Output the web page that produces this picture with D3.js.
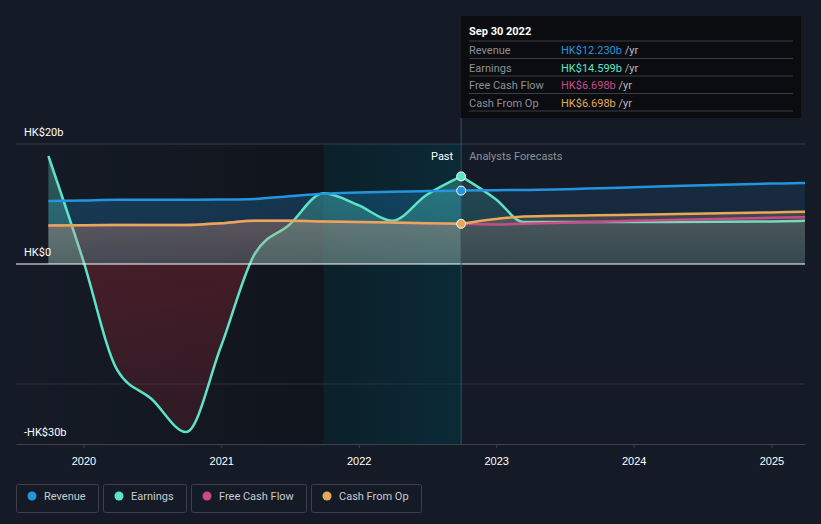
<!DOCTYPE html>
<html>
<head>
<meta charset="utf-8">
<script src="https://cdn.jsdelivr.net/npm/d3@7"></script>
<style>
  body { margin: 0; background: #151b26; }
  svg { display: block; font-family: Roboto, "Open Sans", sans-serif; }
</style>
</head>
<body>
<svg id="chart" width="821" height="524"></svg>
<script>
// data (HK$ billions)
const pastDates = ["2019-09-30", "2019-12-31", "2020-03-31", "2020-06-30", "2020-09-30", "2020-12-31",
  "2021-03-31", "2021-06-30", "2021-09-30", "2021-12-31", "2022-03-31", "2022-06-30", "2022-09-30"];
const pastRevenue = [10.5, 10.6, 10.7, 10.7, 10.7, 10.75, 10.85, 11.3, 11.7, 11.9, 12.05, 12.15, 12.23];
const pastEarnings = [18, 0.7, -17.7, -22.5, -28, -13.8, 1.7, 6.5, 11.8, 9.8, 7.2, 11.5, 14.599];
const pastFcf = [6.4, 6.45, 6.5, 6.5, 6.5, 6.8, 7.2, 7.2, 7.1, 7.0, 6.9, 6.8, 6.698];
const pastCfo = [6.4, 6.45, 6.5, 6.5, 6.5, 6.8, 7.2, 7.2, 7.1, 7.0, 6.9, 6.8, 6.698];

const fcDates = ["2022-09-30", "2022-12-31", "2023-03-15", "2023-12-31", "2024-12-31", "2025-03-31"];
const fcRevenue = [12.23, 12.3, 12.35, 12.8, 13.4, 13.5];
const fcEarnings = [14.599, 10.8, 7.0, 7.0, 7.1, 7.2];
const fcFcf = [6.698, 6.6, 6.7, 7.2, 7.7, 7.8];
const fcCfo = [6.698, 7.5, 7.9, 8.2, 8.6, 8.7];

const yTicks = [20, 0, -30];
const yTickLabels = ["HK$20b", "HK$0", "-HK$30b"];
const xTickYears = [2020, 2021, 2022, 2023, 2024, 2025];

const seriesNames = ["Revenue", "Earnings", "Free Cash Flow", "Cash From Op"];
const seriesColors = ["#2394df", "#5de4c7", "#c94b8a", "#e8a85a"];
const tipValues = ["HK$12.230b", "HK$14.599b", "HK$6.698b", "HK$6.698b"];

const parse = d3.timeParse("%Y-%m-%d");
const pDates = pastDates.map(parse);
const fDates = fcDates.map(parse);

const svg = d3.select("#chart");
const x = d3.scaleTime()
  .domain([new Date(2019, 6, 6), new Date(2025, 2, 31)])
  .range([16, 805]);
const y = d3.scaleLinear().domain([-30, 20]).range([444, 144]);

const defs = svg.append("defs");

// background shading for the past part
const gPast = defs.append("linearGradient").attr("id", "gpast");
gPast.append("stop").attr("offset", "0%").attr("stop-color", "#000").attr("stop-opacity", 0);
gPast.append("stop").attr("offset", "100%").attr("stop-color", "#000").attr("stop-opacity", 0.25);
const gYear = defs.append("linearGradient").attr("id", "gyear");
gYear.append("stop").attr("offset", "0%").attr("stop-color", "#0b2029").attr("stop-opacity", 1);
gYear.append("stop").attr("offset", "100%").attr("stop-color", "#0b2a36").attr("stop-opacity", 1);

const cutDate = parse("2022-09-30");
const yearAgo = parse("2021-09-30");

svg.append("rect")
  .attr("x", 16).attr("y", 144)
  .attr("width", x(yearAgo) - 16).attr("height", 300)
  .attr("fill", "url(#gpast)");
svg.append("rect")
  .attr("x", x(yearAgo)).attr("y", 144)
  .attr("width", x(cutDate) - x(yearAgo)).attr("height", 300)
  .attr("fill", "url(#gyear)");

// grid lines
svg.append("line").attr("x1", 16).attr("x2", 805).attr("y1", y(20)).attr("y2", y(20))
  .attr("stroke", "#3b4049").attr("stroke-width", 1);
svg.append("line").attr("x1", 16).attr("x2", 805).attr("y1", y(-20)).attr("y2", y(-20))
  .attr("stroke", "#2c313a").attr("stroke-width", 1);

// fill gradients (fade towards zero)
function vGrad(id, color, top, bottom) {
  let g = defs.append("linearGradient").attr("id", id)
    .attr("gradientUnits", "userSpaceOnUse")
    .attr("x1", 0).attr("x2", 0).attr("y1", y(20)).attr("y2", y(0));
  g.append("stop").attr("offset", "0%").attr("stop-color", color).attr("stop-opacity", top);
  g.append("stop").attr("offset", "100%").attr("stop-color", color).attr("stop-opacity", bottom);
}
vGrad("grevPast", "#2394df", 0.3, 0.2);
vGrad("grevFc", "#2394df", 0.15, 0.1);
vGrad("gearn", "#5de4c7", 0.35, 0.2);
vGrad("gearnFc", "#5de4c7", 0.18, 0.1);
vGrad("gcashPast", "#e8977a", 0.5, 0.22);
vGrad("gcashFc", "#e6aa88", 0.34, 0.12);
let gNeg = defs.append("linearGradient").attr("id", "gneg")
  .attr("gradientUnits", "userSpaceOnUse")
  .attr("x1", 0).attr("x2", 0).attr("y1", y(0)).attr("y2", y(-30));
gNeg.append("stop").attr("offset", "0%").attr("stop-color", "#8a2431").attr("stop-opacity", 0.42);
gNeg.append("stop").attr("offset", "100%").attr("stop-color", "#8a2431").attr("stop-opacity", 0.22);

defs.append("clipPath").attr("id", "clipPos").append("rect")
  .attr("x", 0).attr("y", 0).attr("width", 821).attr("height", y(0));
defs.append("clipPath").attr("id", "clipNeg").append("rect")
  .attr("x", 0).attr("y", y(0)).attr("width", 821).attr("height", 524 - y(0));

const curve = d3.curveMonotoneX;
const line = d3.line().x(d => x(d[0])).y(d => y(d[1])).curve(curve);
const area = d3.area().x(d => x(d[0])).y0(y(0)).y1(d => y(d[1])).curve(curve);

const pastSeries = [pastRevenue, pastEarnings, pastFcf, pastCfo].map(v => pDates.map((d, i) => [d, v[i]]));
const fcSeries = [fcRevenue, fcEarnings, fcFcf, fcCfo].map(v => fDates.map((d, i) => [d, v[i]]));

function drawLine(data, i) {
  svg.append("path").datum(data).attr("d", line)
    .attr("fill", "none").attr("stroke", seriesColors[i]).attr("stroke-width", 2.5);
}

// revenue and earnings areas
svg.append("path").datum(pastSeries[0]).attr("d", area).attr("fill", "url(#grevPast)");
svg.append("path").datum(fcSeries[0]).attr("d", area).attr("fill", "url(#grevFc)");
svg.append("path").datum(pastSeries[1]).attr("d", area).attr("fill", "url(#gearn)")
  .attr("clip-path", "url(#clipPos)");
svg.append("path").datum(pastSeries[1]).attr("d", area).attr("fill", "url(#gneg)")
  .attr("clip-path", "url(#clipNeg)");
svg.append("path").datum(fcSeries[1]).attr("d", area).attr("fill", "url(#gearnFc)");

// earnings line sits under the cash fill
drawLine(pastSeries[1], 1);
drawLine(fcSeries[1], 1);

svg.append("path").datum(pastSeries[3]).attr("d", area).attr("fill", "url(#gcashPast)");
svg.append("path").datum(fcSeries[3]).attr("d", area).attr("fill", "url(#gcashFc)");

// zero line
svg.append("line").attr("x1", 16).attr("x2", 805).attr("y1", y(0)).attr("y2", y(0))
  .attr("stroke", "#ffffff").attr("stroke-width", 1);

[2, 3, 0].forEach(i => {
  drawLine(pastSeries[i], i);
  drawLine(fcSeries[i], i);
});

// x axis
const xAxis = d3.axisBottom(x)
  .tickValues(xTickYears.map(yy => new Date(yy, 0, 1)))
  .tickFormat(d3.timeFormat("%Y"))
  .tickSize(4).tickSizeOuter(0);
const gx = svg.append("g").attr("transform", "translate(0,444)").call(xAxis);
gx.select(".domain").attr("stroke", "#3d424b");
gx.selectAll(".tick line").attr("stroke", "#3d424b");
gx.selectAll(".tick text").attr("fill", "#ffffff").attr("font-size", 11).attr("dy", "1.25em");

// y labels
svg.selectAll(".ylab").data(yTicks).enter().append("text")
  .attr("class", "ylab")
  .attr("x", 24).attr("y", d => y(d) - 8)
  .attr("fill", "#ffffff").attr("font-size", 11)
  .text((d, i) => yTickLabels[i]);

// divider between past and forecast
svg.append("line").attr("x1", x(cutDate)).attr("x2", x(cutDate)).attr("y1", 118).attr("y2", 444)
  .attr("stroke", "#2b5562").attr("stroke-width", 1);

svg.append("text").attr("x", x(cutDate) - 8).attr("y", 160)
  .attr("text-anchor", "end").attr("fill", "#ffffff").attr("font-size", 11).text("Past");
svg.append("text").attr("x", x(cutDate) + 8).attr("y", 160)
  .attr("fill", "#8b9099").attr("font-size", 11).text("Analysts Forecasts");

// markers at the cut
[3, 1, 0].forEach(i => {
  let v = pastSeries[i][pastSeries[i].length - 1];
  svg.append("circle").attr("cx", x(v[0])).attr("cy", y(v[1])).attr("r", 4.5)
    .attr("fill", seriesColors[i]).attr("stroke", "#ffffff").attr("stroke-width", 1);
});

// tooltip
const tip = svg.append("g").attr("transform", "translate(461,16)");
tip.append("rect").attr("width", 340).attr("height", 102).attr("fill", "#0a0c10");
tip.append("text").attr("x", 8).attr("y", 19).attr("fill", "#ffffff")
  .attr("font-size", 11).attr("font-weight", "bold").text("Sep 30 2022");
seriesNames.forEach((name, i) => {
  let ry = 25 + i * 17.5;
  tip.append("line").attr("x1", 8).attr("x2", 332).attr("y1", ry).attr("y2", ry)
    .attr("stroke", "#3a3d44");
  tip.append("text").attr("x", 8).attr("y", ry + 13).attr("fill", "#8e9196")
    .attr("font-size", 11).text(name);
  let t = tip.append("text").attr("x", 100).attr("y", ry + 13).attr("font-size", 11);
  t.append("tspan").attr("fill", seriesColors[i]).text(tipValues[i]);
  t.append("tspan").attr("fill", "#b8bbc0").text(" /yr");
});
tip.append("line").attr("x1", 8).attr("x2", 332).attr("y1", 95).attr("y2", 95).attr("stroke", "#3a3d44");

// legend
let lx = 16;
seriesNames.forEach((name, i) => {
  let g = svg.append("g").attr("transform", `translate(${lx},484)`);
  let box = g.append("rect").attr("x", 0.5).attr("y", 0.5).attr("height", 28).attr("rx", 2)
    .attr("fill", "none").attr("stroke", "#3b404a");
  g.append("circle").attr("cx", 16).attr("cy", 12).attr("r", 4.5).attr("fill", seriesColors[i]);
  let t = g.append("text").attr("x", 28).attr("y", 16).attr("fill", "#c8cbd0")
    .attr("font-size", 11).text(name);
  let w = Math.round(t.node().getComputedTextLength() + 40);
  box.attr("width", w);
  lx += w + 5;
});
</script>
</body>
</html>
